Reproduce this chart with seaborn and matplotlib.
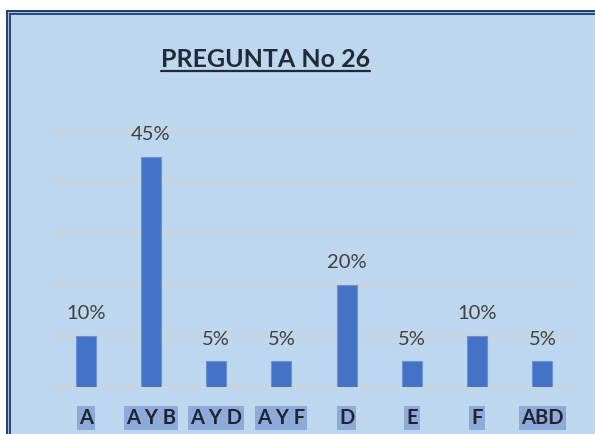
import matplotlib
matplotlib.use("Agg")
import matplotlib.pyplot as plt
from matplotlib.patches import Rectangle
from matplotlib.lines import Line2D
import seaborn as sns
import pandas as pd

# Survey answers for question 26
categories = ["A", "A Y B", "A Y D", "A Y F", "D", "E", "F", "ABD"]
shares = [0.10, 0.45, 0.05, 0.05, 0.20, 0.05, 0.10, 0.05]
title = "PREGUNTA No 26"

W, H = 595, 434
DPI = 100

sns.set_theme(style="white")
plt.rcParams["font.family"] = ["Lato", "DejaVu Sans"]

fig = plt.figure(figsize=(W / DPI, H / DPI), dpi=DPI)
fig.patch.set_facecolor("white")


def fx(px):
    return px / W


def fy(py):
    return (H - py) / H


def frame(x0, y0, color, z):
    fig.add_artist(Rectangle((fx(x0), fy(H + 10)), fx(W + 20 - x0), fy(y0) - fy(H + 10),
                             transform=fig.transFigure, facecolor=color,
                             edgecolor="none", zorder=z))


# double-line frame around the chart area
frame(6, 10, "#24406E", -10)
frame(8, 12, "#A7BEDF", -9)
frame(9, 13, "#2B4A7E", -8)
frame(11, 15, "#BDD7EE", -7)

ax = fig.add_axes([fx(53), fy(387), fx(575) - fx(53), fy(131) - fy(387)])
ax.set_facecolor("none")

df = pd.DataFrame({"opcion": categories, "porcentaje": shares})
sns.barplot(data=df, x="opcion", y="porcentaje", ax=ax, color="#4472C4",
            saturation=1, width=0.31, edgecolor="#6A92D4", linewidth=0.8, zorder=3)

ax.set_ylim(0, 0.5)
ax.set_xlim(-0.5, len(categories) - 0.5)
ax.set_yticks([0, 0.1, 0.2, 0.3, 0.4, 0.5])
ax.yaxis.grid(True, color="#D2D2D2", linewidth=1.5, zorder=0)
ax.set_axisbelow(True)
ax.tick_params(left=False, bottom=False, labelleft=False, labelbottom=False)
for s in ax.spines.values():
    s.set_visible(False)
ax.set_xlabel("")
ax.set_ylabel("")

# value labels above each bar
ax.bar_label(ax.containers[0], labels=[f"{v:.0%}" for v in shares],
             padding=10, fontsize=14.5, color="#404040")

# highlighted category labels under the axis
for i, cat in enumerate(categories):
    ax.annotate(cat, xy=(i, 0), xycoords=("data", "axes fraction"),
                xytext=(0, -26.6), textcoords="offset points",
                ha="center", va="baseline", fontsize=14.5, fontweight="bold",
                color="#1E2530",
                bbox=dict(boxstyle="square,pad=0.1", facecolor="#8EAADB",
                          edgecolor="none"))

# underlined title
t = fig.text(fx(265.5), fy(67), title, ha="center", va="baseline",
             fontsize=18, fontweight="bold", color="#222A35")
fig.canvas.draw()
# keep the gridlines at the axis limits fully visible
for gl in ax.get_ygridlines():
    gl.set_clip_on(False)
bb = t.get_window_extent(fig.canvas.get_renderer())
fig.add_artist(Line2D([bb.x0 / W, bb.x1 / W], [fy(70.5), fy(70.5)],
                      transform=fig.transFigure, color="#222A35", linewidth=1.6))

fig.savefig("out.png", dpi=DPI, facecolor=fig.get_facecolor())
